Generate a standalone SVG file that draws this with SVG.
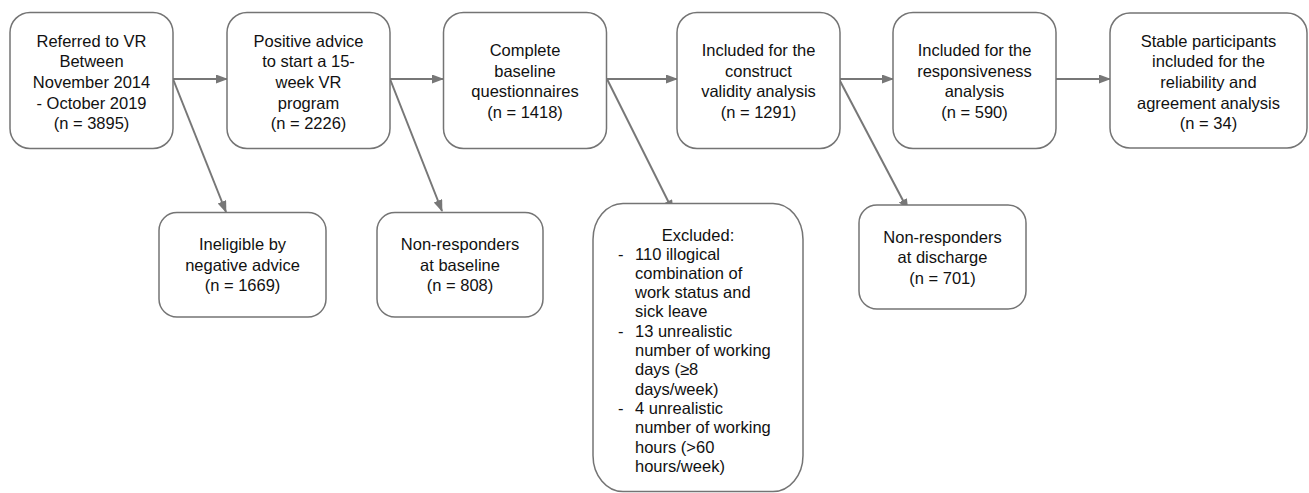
<svg xmlns="http://www.w3.org/2000/svg" width="1309" height="493" viewBox="0 0 1309 493">
<style>
.box{fill:#fff;stroke:#747474;stroke-width:1.5}
.t{font-family:"Liberation Sans",Arial,sans-serif;font-size:16.5px;fill:#111;text-anchor:middle}
.l{font-family:"Liberation Sans",Arial,sans-serif;font-size:16.5px;fill:#111}
.c{stroke:#777;stroke-width:2;fill:none;marker-end:url(#ah)}
</style>
<defs>
<marker id="ah" markerUnits="userSpaceOnUse" markerWidth="12" markerHeight="10" refX="11" refY="4.5" orient="auto">
<path d="M0,0 L12,4.5 L0,9 z" fill="#777"/>
</marker>
</defs>
<rect width="1309" height="493" fill="#fff"/>
<g id="connectors">
<line class="c" x1="173" y1="79" x2="227" y2="79"/>
<line class="c" x1="390" y1="79" x2="443" y2="79"/>
<line class="c" x1="607" y1="79" x2="677" y2="79"/>
<line class="c" x1="839" y1="79" x2="893" y2="79"/>
<line class="c" x1="1056" y1="79" x2="1110" y2="79"/>
<line class="c" x1="173" y1="79" x2="226" y2="212"/>
<line class="c" x1="390" y1="79" x2="442" y2="211"/>
<line class="c" x1="607" y1="79" x2="673" y2="211"/>
<line class="c" x1="839" y1="79" x2="908" y2="210"/>
</g>
<g id="n1">
<rect class="box" x="10" y="12.5" width="163" height="136" rx="20"/>
<text class="t" x="91.5" y="46.5">Referred to VR</text>
<text class="t" x="91.5" y="67.2">Between</text>
<text class="t" x="91.5" y="87.9">November 2014</text>
<text class="t" x="91.5" y="108.6">- October 2019</text>
<text class="t" x="91.5" y="129.3">(n = 3895)</text>
</g>
<g id="n2">
<rect class="box" x="227" y="12.5" width="163" height="136" rx="20"/>
<text class="t" x="308.5" y="46.5">Positive advice</text>
<text class="t" x="308.5" y="67.2">to start a 15-</text>
<text class="t" x="308.5" y="87.9">week VR</text>
<text class="t" x="308.5" y="108.6">program</text>
<text class="t" x="308.5" y="129.3">(n = 2226)</text>
</g>
<g id="n3">
<rect class="box" x="443.5" y="12.5" width="163" height="136" rx="20"/>
<text class="t" x="525" y="56">Complete</text>
<text class="t" x="525" y="76.7">baseline</text>
<text class="t" x="525" y="97.4">questionnaires</text>
<text class="t" x="525" y="118.1">(n = 1418)</text>
</g>
<g id="n4">
<rect class="box" x="677" y="12.5" width="163" height="136" rx="20"/>
<text class="t" x="758.5" y="56">Included for the</text>
<text class="t" x="758.5" y="76.7">construct</text>
<text class="t" x="758.5" y="97.4">validity analysis</text>
<text class="t" x="758.5" y="118.1">(n = 1291)</text>
</g>
<g id="n5">
<rect class="box" x="893" y="12.5" width="163" height="136" rx="20"/>
<text class="t" x="974.5" y="56">Included for the</text>
<text class="t" x="974.5" y="76.7">responsiveness</text>
<text class="t" x="974.5" y="97.4">analysis</text>
<text class="t" x="974.5" y="118.1">(n = 590)</text>
</g>
<g id="n6">
<rect class="box" x="1110" y="13" width="197" height="135" rx="20"/>
<text class="t" x="1208.5" y="46.5">Stable participants</text>
<text class="t" x="1208.5" y="67.2">included for the</text>
<text class="t" x="1208.5" y="87.9">reliability and</text>
<text class="t" x="1208.5" y="108.6">agreement analysis</text>
<text class="t" x="1208.5" y="129.3">(n = 34)</text>
</g>
<g id="n7">
<rect class="box" x="159" y="212.5" width="167" height="104.5" rx="18"/>
<text class="t" x="242.5" y="250">Ineligible by</text>
<text class="t" x="242.5" y="270.7">negative advice</text>
<text class="t" x="242.5" y="291.4">(n = 1669)</text>
</g>
<g id="n8">
<rect class="box" x="377" y="212.5" width="166" height="104.5" rx="18"/>
<text class="t" x="460" y="250">Non-responders</text>
<text class="t" x="460" y="270.7">at baseline</text>
<text class="t" x="460" y="291.4">(n = 808)</text>
</g>
<g id="n9">
<rect class="box" x="593" y="203.5" width="210" height="288" rx="30" ry="36"/>
<text class="t" x="698" y="240.5">Excluded:</text>
<text class="l" x="618" y="259.5">-</text>
<text class="l" x="635" y="259.5">110 illogical</text>
<text class="l" x="635" y="278.8">combination of</text>
<text class="l" x="635" y="298.1">work status and</text>
<text class="l" x="635" y="317.4">sick leave</text>
<text class="l" x="618" y="336.7">-</text>
<text class="l" x="635" y="336.7">13 unrealistic</text>
<text class="l" x="635" y="356">number of working</text>
<text class="l" x="635" y="375.3">days (≥8</text>
<text class="l" x="635" y="394.6">days/week)</text>
<text class="l" x="618" y="413.9">-</text>
<text class="l" x="635" y="413.9">4 unrealistic</text>
<text class="l" x="635" y="433.2">number of working</text>
<text class="l" x="635" y="452.5">hours (&gt;60</text>
<text class="l" x="635" y="471.8">hours/week)</text>
</g>
<g id="n10">
<rect class="box" x="859" y="205" width="167" height="104" rx="18"/>
<text class="t" x="942.5" y="242.7">Non-responders</text>
<text class="t" x="942.5" y="263.4">at discharge</text>
<text class="t" x="942.5" y="284.1">(n = 701)</text>
</g>
</svg>
